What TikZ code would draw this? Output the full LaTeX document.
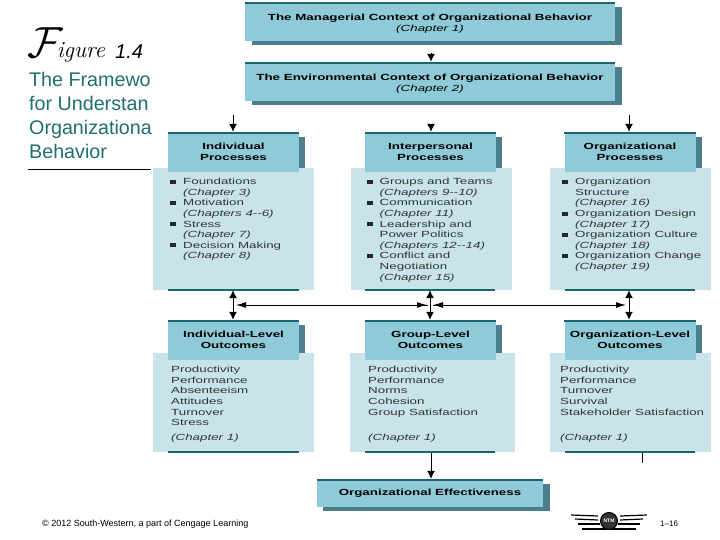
\documentclass[tikz,border=0pt]{standalone}
\usepackage{xcolor}
\usepackage{graphicx}
\usepackage{fontspec}
\usepackage{tikz}
\usetikzlibrary{arrows.meta}
\setmainfont{Liberation Sans}
\newfontfamily\wideface[FakeStretch=1.5]{Liberation Sans}
\definecolor{headblue}{HTML}{8FCAD8}
\definecolor{panelblue}{HTML}{C8E4EA}
\definecolor{shadeblue}{HTML}{4B7F8B}
\definecolor{ruleteal}{HTML}{1C6470}
\definecolor{titleteal}{HTML}{1F6F6C}
\tikzset{
    header/.style={fill=headblue, minimum width=131pt, minimum height=40pt, inner sep=0pt, align=center, font=\wideface\fontsize{8.9}{10.5}\selectfont\bfseries},
    wide/.style={header, minimum width=370pt, minimum height=39pt},
    panel/.style={fill=panelblue, inner sep=0pt, minimum width=161pt},
    body/.style={anchor=north west, inner sep=0pt, align=left, font=\wideface\fontsize{8.9}{10.6}\selectfont, text=black!80},
    bullet/.style={fill=black!85, inner sep=0pt, minimum width=6pt, minimum height=3.5pt},
    rulebar/.style={ruleteal, line width=2pt},
    tip/.style={-{Latex[length=8pt,width=8pt]}, line width=1pt},
    flattip/.style={-{Latex[length=10pt,width=6pt]}, line width=1pt},
    twotip/.style={{Latex[length=8pt,width=8pt]}-{Latex[length=8pt,width=8pt]}, line width=1pt},
    title/.style={anchor=base west, inner sep=0pt, font=\fontsize{19.7}{24}\selectfont, text=titleteal}
}
\begin{document}
\begin{tikzpicture}[x=1pt, y=-1pt]
    \useasboundingbox (0,0) rectangle (720,540);
    % shadows
    \fill[shadeblue] (252,7) rectangle (622,45);
    \fill[shadeblue] (252,67) rectangle (622,105);
    \fill[shadeblue] (323,484) rectangle (550,511);
    \foreach \x in {168,365,565}
        \foreach \y in {132,320}
            \fill[shadeblue] (\x+6,\y+5) rectangle (\x+137,\y+36);
    % top boxes
    \node[wide] (managerial) at (430,21.5) {\rule{0pt}{11pt}The Managerial Context of Organizational Behavior\\[0pt]{\mdseries\itshape (Chapter 1)}};
    \node[wide] (environmental) at (430,81.5) {\rule{0pt}{11pt}The Environmental Context of Organizational Behavior\\[0pt]{\mdseries\itshape (Chapter 2)}};
    % process panels
    \node[panel, minimum height=122pt] (indpanel) at (233.5,229) {};
    \node[panel, minimum height=122pt] (intpanel) at (431,229) {};
    \node[panel, minimum height=122pt] (orgpanel) at (630,229) {};
    \node[header] (indproc) at (233.5,152) {Individual\\Processes};
    \node[header] (intproc) at (430.5,152) {Interpersonal\\Processes};
    \node[header] (orgproc) at (630,152) {Organizational\\Processes};
    % outcome panels
    \node[panel, minimum height=99pt] (indbody) at (233.5,402.5) {};
    \node[panel, minimum width=165pt, minimum height=99pt] (grpbody) at (432.5,402.5) {};
    \node[panel, minimum height=99pt] (orgbody) at (630,402.5) {};
    \node[header] (indout) at (233.5,340) {Individual-Level\\Outcomes};
    \node[header] (grpout) at (430.5,340) {Group-Level\\Outcomes};
    \node[header] (orgout) at (630,340) {Organization-Level\\Outcomes};
    % bottom box
    \node[header, minimum width=226pt, minimum height=28pt] (effect) at (430,493) {Organizational Effectiveness};
    % dark rules
    \foreach \n in {managerial,environmental,indproc,intproc,orgproc,indout,grpout,orgout,effect}
        \draw[rulebar] ([yshift=-1pt]\n.north west) -- ([yshift=-1pt]\n.north east);
    \foreach \a/\b in {168/299,365/495,565/695} {
        \draw[rulebar] (\a,290) -- (\b,290);
        \draw[rulebar] (\a,452) -- (\b,452);
    }
    % panel texts
    \node[body] (indlist) at (183,178) {Foundations\\\textit{(Chapter 3)}\\Motivation\\\textit{(Chapters 4--6)}\\Stress\\\textit{(Chapter 7)}\\Decision Making\\\textit{(Chapter 8)}};
    \node[body] (intlist) at (379.5,178) {Groups and Teams\\\textit{(Chapters 9--10)}\\Communication\\\textit{(Chapter 11)}\\Leadership and\\Power Politics\\\textit{(Chapters 12--14)}\\Conflict and\\Negotiation\\\textit{(Chapter 15)}};
    \node[body] (orglist) at (575,178) {Organization\\Structure\\\textit{(Chapter 16)}\\Organization Design\\\textit{(Chapter 17)}\\Organization Culture\\\textit{(Chapter 18)}\\Organization Change\\\textit{(Chapter 19)}};
    \foreach \x/\y in {173/182,173/203,173/224,173/245,370/182,370/203,370/224,370/256,565/182,565/214,565/235,565/256}
        \node[bullet] at (\x,\y) {};
    \node[body] (indres) at (171,366) {Productivity\\Performance\\Absenteeism\\Attitudes\\Turnover\\Stress};
    \node[body] (indchap) at (171,434) {\textit{(Chapter 1)}};
    \node[body] (grpres) at (368,366) {Productivity\\Performance\\Norms\\Cohesion\\Group Satisfaction};
    \node[body] (grpchap) at (368,434) {\textit{(Chapter 1)}};
    \node[body] (orgres) at (560,366) {Productivity\\Performance\\Turnover\\Survival\\Stakeholder Satisfaction};
    \node[body] (orgchap) at (560,434) {\textit{(Chapter 1)}};
    % connectors
    \coordinate (envtop) at (431,53);
    \coordinate (indtop) at (233,115);
    \coordinate (inttop) at (431,124);
    \coordinate (orgtop) at (629,115);
    \coordinate (crossa) at (233,305);
    \coordinate (crossb) at (430,305);
    \coordinate (crossc) at (629,305);
    \coordinate (grpfoot) at (431,453);
    \coordinate (stubtop) at (642,453);
    \coordinate (stubend) at (642,463);
    \draw[tip] (envtop) -- (envtop |- environmental.north);
    \draw[tip] (indtop) -- (indtop |- indproc.north);
    \draw[tip] (inttop) -- (inttop |- intproc.north);
    \draw[tip] (orgtop) -- (orgtop |- orgproc.north);
    \draw[twotip] (indpanel.south -| crossa) -- (indout.north -| crossa);
    \draw[twotip] (intpanel.south -| crossb) -- (grpout.north -| crossb);
    \draw[twotip] (orgpanel.south -| crossc) -- (orgout.north -| crossc);
    \draw[flattip] ([xshift=-2pt]crossb) -- ([xshift=3pt]crossa);
    \draw[flattip] ([xshift=3pt]crossb) -- ([xshift=-3pt]crossc);
    \draw[flattip] ([xshift=40pt]crossb) -- ([xshift=3pt]crossb);
    \draw[flattip] ([xshift=-40pt]crossb) -- ([xshift=-3pt]crossb);
    \draw[tip] (grpfoot) -- (grpfoot |- effect.north);
    \draw[line width=1pt] (stubtop) -- (stubend);
    % left column
    \node[anchor=base west, inner sep=0pt, font=\fontsize{23}{26}\selectfont] (figword) at (27,58) {\scalebox{1.75}{$\mathcal{F}$}\kern-6pt\textit{\fontfamily{lmr}\selectfont igure}};
    \node[title, text=black, font=\fontsize{20}{24}\selectfont\itshape] (fignum) at (115,59) {1.4};
    \node[title] (lineone) at (29,87) {The Framewo};
    \node[title] (linetwo) at (29,111) {for Understan};
    \node[title] (linethree) at (29,135) {Organizationa};
    \node[title] (linefour) at (29,159) {Behavior};
    \draw[line width=1pt] (28,169.5) -- (151,169.5);
    % footer
    \node[anchor=base west, inner sep=0pt, font=\fontsize{9}{10}\selectfont] (copyright) at (42,526) {© 2012 South-Western, a part of Cengage Learning};
    \node[anchor=base west, inner sep=0pt, font=\fontsize{8}{9}\selectfont] (pagenum) at (660,526) {1--16};
    % wings
    \draw[line width=1.2pt] (571,515) -- (598,516);
    \draw[line width=1.2pt] (620,516) -- (647,515);
    \draw[line width=1.2pt] (575,519) -- (598,520);
    \draw[line width=1.2pt] (620,520) -- (643,519);
    \draw[line width=1.2pt] (578,524) -- (600,524);
    \draw[line width=1.2pt] (618,524) -- (640,524);
    \draw[line width=2pt] (582,529) -- (636,529);
    \node[circle, draw, fill=black!80, line width=1pt, minimum size=17pt, inner sep=0pt, text=white, font=\fontsize{5}{5}\selectfont\bfseries] (logo) at (609,521) {NTM};
\end{tikzpicture}
\end{document}
